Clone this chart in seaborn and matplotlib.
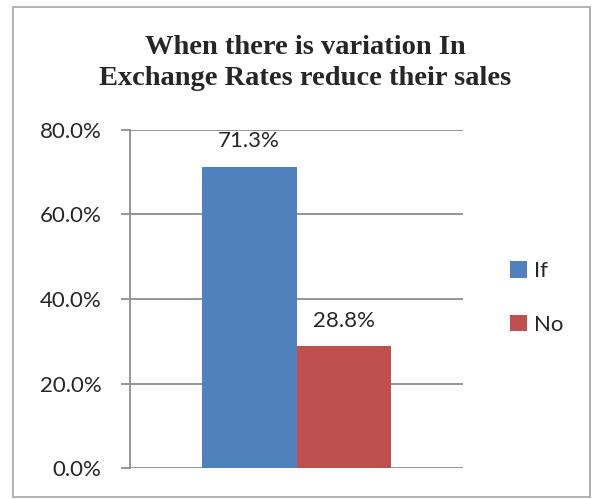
import pandas as pd
import matplotlib.pyplot as plt
import seaborn as sns
from matplotlib.patches import Rectangle

# Data
answers = ['If', 'No']
shares = [71.3, 28.8]
palette = ['#4F81BD', '#C0504D']
yticks = [0, 20, 40, 60, 80]

df = pd.DataFrame({'group': [''] * len(answers), 'answer': answers, 'share': shares})

sns.set_theme(style='white')
plt.rcParams['font.family'] = ['Lato', 'DejaVu Sans']

fig = plt.figure(figsize=(5.95, 4.99), dpi=100)
ax = fig.add_axes([130 / 595, 31 / 499, 333 / 595, 338 / 499])

sns.barplot(data=df, x='group', y='share', hue='answer', palette=palette,
            width=0.57, gap=0, saturation=1, linewidth=0, ax=ax, legend=True)

ax.set_ylim(0, 80)
ax.set_xlim(-0.5, 0.5)
ax.set_yticks(yticks)
ax.set_yticklabels([f'{v:.1f}%' for v in yticks], fontsize=16)
ax.set_xticks([])
ax.set_xlabel('')
ax.set_ylabel('')
ax.grid(axis='y', color='#8c8c8c', linewidth=1.3)
ax.set_axisbelow(True)
for s in ['top', 'right', 'bottom']:
    ax.spines[s].set_visible(False)
ax.spines['left'].set_color('#8c8c8c')
ax.spines['left'].set_linewidth(1.3)
ax.tick_params(axis='y', which='major', direction='out', length=6.5, width=1.3,
               color='#8c8c8c', left=True, pad=14)

for cont in ax.containers:
    ax.bar_label(cont, labels=[f'{v:.1f}%' for v in cont.datavalues],
                 fontsize=16, padding=11)

handles, labels = ax.get_legend_handles_labels()
ax.legend(handles, labels, loc='center left', bbox_to_anchor=(490 / 595, 1 - 298 / 499),
          bbox_transform=fig.transFigure, frameon=False, fontsize=16,
          handlelength=0.75, handleheight=0.75, handletextpad=0.35, labelspacing=1.5)

fig.suptitle('When there is variation In\nExchange Rates reduce their sales',
             x=305 / 595, y=1 - 35 / 499, va='top', fontsize=20.5, fontweight='bold',
             family='Liberation Serif', linespacing=1.3)

fig.patches.append(Rectangle((13 / 595, 2 / 499), 577 / 595, 490 / 499,
                             transform=fig.transFigure, fill=False,
                             edgecolor='#a6a6a6', linewidth=1.2))

plt.savefig('out.png', dpi=100)
